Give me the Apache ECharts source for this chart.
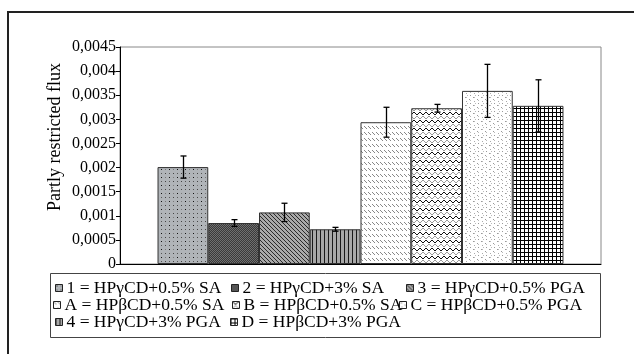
<!DOCTYPE html>
<html>
<head>
<meta charset="utf-8">
<script src="https://cdn.jsdelivr.net/npm/echarts@6/dist/echarts.min.js"></script>
<style>html,body{margin:0;padding:0;background:#fff}#c{width:634px;height:354px}</style>
</head>
<body>
<div id="c"></div>
<script>
// ---- data ----
const categories = [''];
const seriesNames = ['1 = HPγCD+0.5% SA', '2 = HPγCD+3% SA', '3 = HPγCD+0.5% PGA', '4 = HPγCD+3% PGA',
                     'A = HPβCD+0.5% SA', 'B = HPβCD+0.5% SA', 'C = HPβCD+0.5% PGA', 'D = HPβCD+3% PGA'];
const values = [0.00201, 0.00085, 0.00107, 0.00072, 0.00294, 0.00323, 0.00359, 0.00328];
const errors = [0.00023, 0.00007, 0.00019, 0.00004, 0.00031, 0.00008, 0.00055, 0.00054];
const yTickLabels = ['0', '0,0005', '0,001', '0,0015', '0,002', '0,0025', '0,003', '0,0035', '0,004', '0,0045'];
const yName = 'Partly restricted flux';

// ---- patterns ----
function tile(w, h, bg, draw) {
  const c = document.createElement('canvas'); c.width = w; c.height = h;
  const g = c.getContext('2d'); g.fillStyle = bg; g.fillRect(0, 0, w, h);
  const px = (x, y, col) => { g.fillStyle = col; g.fillRect(x, y, 1, 1); };
  draw(px, g);
  return { image: c, repeat: 'repeat' };
}
const patterns = [
  tile(8, 8, '#b0b4b8', px => { px(1, 1, '#111'); px(5, 5, '#444'); px(5, 1, '#777'); px(1, 5, '#555'); }),
  tile(2, 2, '#3a3a3a', px => { px(0, 0, '#707070'); px(1, 1, '#707070'); }),
  tile(4, 4, '#a9a9a9', px => { for (let i = 0; i < 4; i++) px(i, i, '#2a2a2a'); }),
  tile(4, 1, '#a8a8a8', px => { px(0, 0, '#1a1a1a'); }),
  tile(4, 6, '#ffffff', px => { px(0, 0, '#888'); px(1, 1, '#888'); px(2, 2, '#888'); }),
  tile(6, 8, '#ffffff', px => { const z = [0, 1, 2, 2, 1, 0];
      for (let x = 0; x < 6; x++) { px(x, z[x], '#111'); px(x, 4 + z[(x + 3) % 6], '#999'); } }),
  tile(8, 8, '#ffffff', px => { px(1, 1, '#999'); px(2, 1, '#bbb'); px(5, 3, '#999'); px(6, 4, '#bbb');
      px(2, 5, '#aaa'); px(6, 7, '#999'); px(3, 7, '#bbb'); }),
  tile(4, 4, '#ffffff', px => { for (let i = 0; i < 4; i++) { px(i, 0, '#000'); px(0, i, '#000'); } })
];

const N = seriesNames.length;
const GAP = 0.156;
const FONT = 'Liberation Serif';

const barSeries = seriesNames.map((name, i) => ({
  name, type: 'bar',
  data: [values[i]],
  barGap: '0%', barCategoryGap: (GAP * 100) + '%',
  itemStyle: { color: patterns[i], borderColor: '#333', borderWidth: 1 },
  emphasis: { disabled: true },
  animation: false
}));

const errSeries = {
  type: 'custom', z: 10, silent: true, animation: false,
  data: values.map((v, i) => [0, v, errors[i], i]),
  renderItem(params, api) {
    const i = api.value(3);
    const band = api.size([1, 0])[0];
    const w = band * (1 - GAP) / N;
    const c = api.coord([api.value(0), api.value(1)]);
    const x = Math.round(c[0] + (i - (N - 1) / 2) * w) + 0.5;
    const t = api.coord([api.value(0), api.value(1) + api.value(2)])[1];
    const b = api.coord([api.value(0), api.value(1) - api.value(2)])[1];
    const st = { stroke: '#000', lineWidth: 1.3 };
    return { type: 'group', children: [
      { type: 'line', shape: { x1: x, y1: t, x2: x, y2: b }, style: st },
      { type: 'line', shape: { x1: x - 3, y1: t, x2: x + 3, y2: t }, style: st },
      { type: 'line', shape: { x1: x - 3, y1: b, x2: x + 3, y2: b }, style: st }
    ]};
  }
};

// legend placement: one legend per item
const legendPos = [
  [55, 279], [231, 279], [406, 279], [55, 313],
  [53, 296], [232, 296], [399, 296], [230, 313]
];
const legends = seriesNames.map((name, i) => ({
  data: [name], left: legendPos[i][0], top: legendPos[i][1],
  padding: 0, itemWidth: 7, itemHeight: 7, icon: 'rect', itemGap: 0,
  itemStyle: { borderColor: '#222', borderWidth: 1 },
  selectedMode: false,
  textStyle: { fontFamily: FONT, fontSize: 17.5, lineHeight: 18, color: '#000', padding: [0, 0, 0, -1] }
}));

const chart = echarts.init(document.getElementById('c'), null, { renderer: 'canvas' });
chart.setOption({
  animation: false,
  backgroundColor: '#fff',
  grid: { left: 120, right: 33, top: 47, bottom: 90, show: true, borderColor: '#888', borderWidth: 1 },
  xAxis: { type: 'category', data: categories, axisLine: { lineStyle: { color: '#000' } },
           axisTick: { show: false }, axisLabel: { show: false } },
  yAxis: { type: 'value', min: 0, max: 0.0045, interval: 0.0005,
           axisLine: { show: true, lineStyle: { color: '#000' } },
           axisTick: { show: true, length: 4, lineStyle: { color: '#000' } },
           splitLine: { show: false },
           axisLabel: { fontFamily: FONT, fontSize: 16, color: '#000', margin: 4,
                        formatter: v => yTickLabels[Math.round(v / 0.0005)] } },
  legend: legends,
  graphic: [
    { type: 'rect', shape: { x: 8, y: 12, width: 700, height: 400 }, style: { fill: 'none', stroke: '#222', lineWidth: 2 }, z: -1 },
    { type: 'rect', shape: { x: 50.5, y: 273.5, width: 550, height: 64 }, style: { fill: 'none', stroke: '#444', lineWidth: 1 } },
    { type: 'text', x: 55, y: 137, rotation: Math.PI / 2,
      style: { text: yName, fontFamily: FONT, fontSize: 18, fill: '#000', align: 'center', verticalAlign: 'middle' } }
  ],
  series: [...barSeries, errSeries]
});
</script>
</body>
</html>
